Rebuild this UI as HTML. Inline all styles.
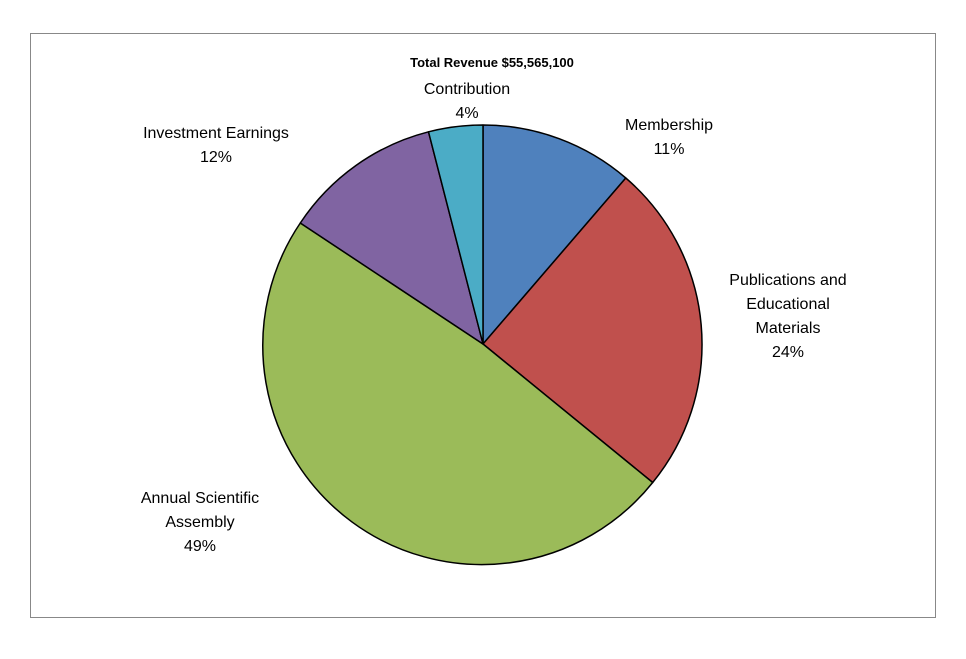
<!DOCTYPE html>
<html><head><style>
body{margin:0;background:#fff;}
svg text{font-family:"Liberation Sans",sans-serif;font-size:16px;fill:#000;}
</style></head><body>
<svg width="966" height="654" xmlns="http://www.w3.org/2000/svg">
<rect x="30.5" y="33.5" width="905" height="584" fill="#fff" stroke="#888" stroke-width="1"/>
<g stroke="#000" stroke-width="1.5" stroke-linejoin="round">
<path d="M483,344 L483,125 A219,219 0 0 1 625.8,178 Z" fill="#4f81bd"/>
<path d="M483,344 L625.8,178 A219,219 0 0 1 652.7,482.5 Z" fill="#c0504d"/>
<path d="M483,344 L652.7,482.5 A219,219 0 0 1 300.3,223 Z" fill="#9bbb59"/>
<path d="M483,344 L300.3,223 A219,219 0 0 1 428.5,131.8 Z" fill="#8064a2"/>
<path d="M483,344 L428.5,131.8 A219,219 0 0 1 483,125 Z" fill="#4bacc6"/>
</g>
<text x="492" y="67" text-anchor="middle" style="font-size:13px;font-weight:bold">Total Revenue $55,565,100</text>
<g text-anchor="middle">
<text x="467" y="94">Contribution</text><text x="467" y="118">4%</text>
<text x="669" y="130">Membership</text><text x="669" y="154">11%</text>
<text x="788" y="285">Publications and</text><text x="788" y="309">Educational</text><text x="788" y="333">Materials</text><text x="788" y="357">24%</text>
<text x="216" y="138">Investment Earnings</text><text x="216" y="162">12%</text>
<text x="200" y="503">Annual Scientific</text><text x="200" y="527">Assembly</text><text x="200" y="551">49%</text>
</g>
</svg>
</body></html>
